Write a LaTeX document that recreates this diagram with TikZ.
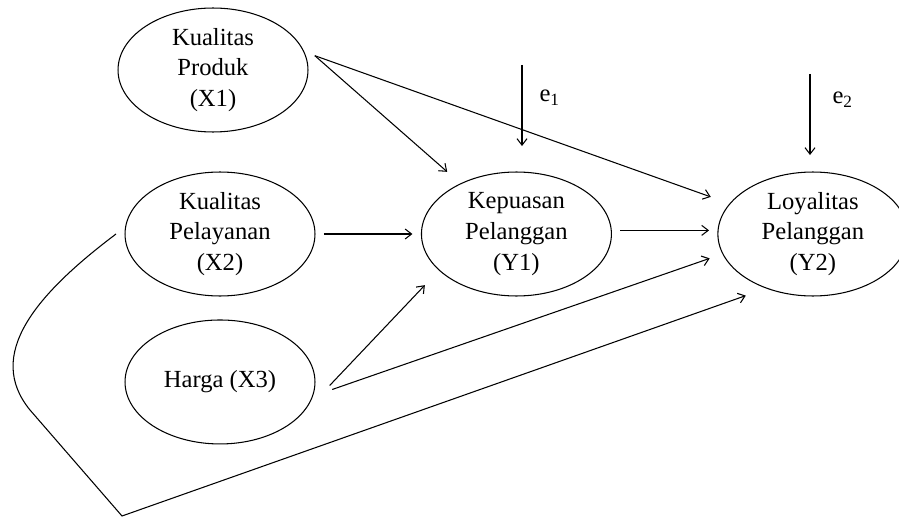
\documentclass[tikz,border=0pt]{standalone}
\usepackage{fontspec}
\setmainfont{Liberation Serif}
\usetikzlibrary{arrows.meta,positioning,shapes.geometric}

\begin{document}
\begin{tikzpicture}[
  x=0.02cm, y=-0.02cm,
  var/.style={ellipse, draw, line width=0.6pt, minimum width=3.8cm, minimum height=2.48cm, inner sep=0pt, outer sep=0.18cm, align=center, font=\fontsize{14pt}{17.5pt}\selectfont},
  arr/.style={-{Straight Barb[length=1.3mm, width=2mm]}, line width=0.6pt},
  lab/.style={font=\fontsize{14pt}{17pt}\selectfont, inner sep=0pt},
  node distance=1.77cm
]
\useasboundingbox (0,0) rectangle (899,517);

\node[var] (x1) at (213,70) {Kualitas\\Produk\\(X1)};
\node[var] (x2) at (220,234) {Kualitas\\Pelayanan\\(X2)};
\node[var, below=0.12cm of x2] (x3) {Harga (X3)};
\node[var, right=of x2] (y1) {Kepuasan\\Pelanggan\\(Y1)};
\node[var, right=of y1] (y2) {Loyalitas\\Pelanggan\\(Y2)};

\coordinate (e1) at (522,65);
\coordinate (e2) at (810,74);
\coordinate (corner) at (122,516);

\draw[arr, shorten >=0.17cm] (x1.8) -- (y1.138);
\draw[arr, shorten >=0.22cm] (x1.8) -- (y2.160);
\draw[arr] (x2.east) -- (y1.west);
\draw[arr] (y1.2) -- (y2.178);
\draw[arr, shorten <=0.2cm, shorten >=0.24cm] (x3.-6) -- (y1.207);
\draw[arr, shorten <=0.2cm, shorten >=0.1cm] (x3.-6) -- (y2.193);
\draw[arr, shorten >=0.18cm] (x2.west) .. controls (35,295) and (-15,355) .. (30,410) -- (corner) -- (y2.225);

\draw[arr, shorten >=0.34cm] (e1) -- (e1 |- y1.north) node[lab, pos=0.33, right=0.34cm] {e\textsubscript{1}};
\draw[arr, shorten >=0.16cm] (e2) -- (e2 |- y2.north) node[lab, pos=0.29, right=0.44cm] {e\textsubscript{2}};
\end{tikzpicture}
\end{document}
